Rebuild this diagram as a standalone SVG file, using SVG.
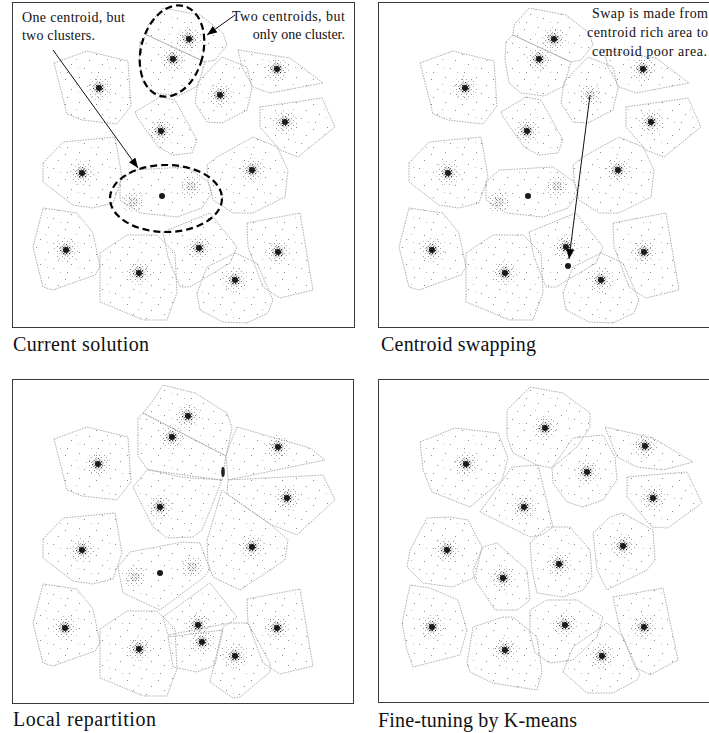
<svg xmlns="http://www.w3.org/2000/svg" xmlns:xlink="http://www.w3.org/1999/xlink" width="709" height="733" viewBox="0 0 709 733">
<defs>
<style>
.frame{fill:#fff;stroke:#3a3a3a;stroke-width:1}
.cell{fill:url(#pts);stroke:#9a9a9a;stroke-width:0.8;stroke-dasharray:1.6 1.1}
.lbl{font-family:"Liberation Serif","Times New Roman",serif;font-size:14px;fill:#111}
.cap{font-family:"Liberation Serif","Times New Roman",serif;font-size:20px;fill:#111}
.ell{fill:none;stroke:#000;stroke-width:2.2;stroke-dasharray:7 4}
.arr{fill:none;stroke:#111;stroke-width:1}
.cd{fill:#1a1a1a}
</style>
<pattern id="pts" width="31" height="25" patternUnits="userSpaceOnUse">
<g fill="#8a8a8a">
<rect x="3" y="4" width="1" height="1"/><rect x="17" y="2" width="1" height="1"/><rect x="27" y="10" width="1" height="1"/>
<rect x="9" y="14" width="1" height="1"/><rect x="22" y="18" width="1" height="1"/><rect x="5" y="22" width="1" height="1"/>
<rect x="14" y="9" width="1" height="1" fill="#b5b5b5"/><rect x="29" y="22" width="1" height="1" fill="#b5b5b5"/><rect x="16" y="17" width="1" height="1" fill="#c0c0c0"/>
</g>
</pattern>
<pattern id="sp" width="5" height="5" patternUnits="userSpaceOnUse">
<rect x="1" y="1" width="1" height="1" fill="#999"/><rect x="3" y="3" width="1" height="1" fill="#aaa"/>
</pattern>
<pattern id="dn" width="3" height="3" patternUnits="userSpaceOnUse">
<rect x="0" y="0" width="1.2" height="1.2" fill="#333"/><rect x="1.5" y="1.6" width="1" height="1" fill="#555"/>
</pattern>
<marker id="ah" viewBox="0 0 10 8" refX="10" refY="4" markerWidth="10" markerHeight="8" markerUnits="userSpaceOnUse" orient="auto">
<path d="M0,0 L10,4 L0,8 z" fill="#000"/>
</marker>
<g id="halo"><circle r="12" fill="url(#sp)"/><circle r="6" fill="url(#dn)"/><circle r="3" class="cd"/></g>
<g id="blob"><circle r="11" fill="url(#sp)"/><circle r="5" fill="url(#dn)" opacity="0.55"/></g>
<polygon id="pA" class="cell" points="54,63 87,51 128,61 131,106 117,124 82,120 67,114"/>
<polygon id="pB1" class="cell" points="148,25 163,8 200,15 223,33 227,45 215,60 205,62 147,35"/>
<polygon id="pB2" class="cell" points="140,42 147,35 205,62 198,86 178,96 155,93 143,83 139,60"/>
<polygon id="pC" class="cell" points="238,50 290,58 323,83 270,93 253,87 242,67"/>
<polygon id="pD" class="cell" points="198,82 222,57 247,67 252,88 247,110 222,123 207,122 195,103"/>
<polygon id="pE" class="cell" points="260,107 322,98 335,127 298,157 280,150 260,127"/>
<polygon id="pF" class="cell" points="135,112 160,97 175,100 197,140 192,153 173,155 158,147 137,117"/>
<polygon id="pG" class="cell" points="43,163 63,142 115,137 122,177 113,203 93,208 73,205 43,182"/>
<polygon id="pH" class="cell" points="120,182 133,170 187,167 208,182 212,193 202,208 177,217 140,213 120,200"/>
<polygon id="pI" class="cell" points="207,165 217,157 253,137 277,147 288,170 285,197 253,213 233,213 213,200 208,180"/>
<polygon id="pJ" class="cell" points="43,208 77,213 93,233 100,267 95,275 53,290 43,287 33,247"/>
<polygon id="pK" class="cell" points="100,253 127,235 157,235 175,253 177,293 167,320 143,320 115,308 100,302"/>
<polygon id="pL" class="cell" points="163,232 210,213 237,247 230,263 190,287 180,287 168,257"/>
<polygon id="pM" class="cell" points="197,293 207,267 235,253 257,263 273,300 268,313 247,323 223,322 200,310"/>
<polygon id="pN" class="cell" points="247,223 300,213 313,290 280,298 263,287 248,247"/>
</defs>
<rect width="709" height="733" fill="#fff"/>

<!-- Panel 1: Current solution -->
<g id="panel1">
<rect class="frame" x="12.5" y="2.5" width="342" height="325"/>
<use href="#pA"/><use href="#pB1"/><use href="#pB2"/><use href="#pC"/><use href="#pD"/><use href="#pE"/><use href="#pF"/><use href="#pG"/><use href="#pH"/><use href="#pI"/><use href="#pJ"/><use href="#pK"/><use href="#pL"/><use href="#pM"/><use href="#pN"/>
<use href="#halo" x="99" y="88"/><use href="#halo" x="189" y="39"/><use href="#halo" x="173" y="59"/><use href="#halo" x="277" y="69"/><use href="#halo" x="220" y="95"/><use href="#halo" x="285" y="122"/><use href="#halo" x="161" y="131"/><use href="#halo" x="82" y="173"/><use href="#halo" x="252" y="170"/><use href="#halo" x="66" y="250"/><use href="#halo" x="139" y="273"/><use href="#halo" x="199" y="248"/><use href="#halo" x="235" y="280"/><use href="#halo" x="278" y="252"/>
<use href="#blob" x="133" y="202"/><use href="#blob" x="191" y="186"/>
<circle class="cd" cx="162" cy="196" r="3"/>
<ellipse class="ell" cx="172" cy="51" rx="31" ry="46.5" transform="rotate(15 172 51)"/>
<ellipse class="ell" cx="166" cy="198.5" rx="56" ry="33.5"/>
<text class="lbl" x="22" y="22" textLength="103" lengthAdjust="spacing">One centroid, but</text>
<text class="lbl" x="22" y="40" textLength="73" lengthAdjust="spacing">two clusters.</text>
<text class="lbl" x="232" y="21" textLength="113" lengthAdjust="spacing">Two centroids, but</text>
<text class="lbl" x="345" y="39" text-anchor="end">only one cluster.</text>
<text class="cap" x="13" y="351" textLength="136" lengthAdjust="spacing">Current solution</text>
</g>

<!-- Panel 2: Centroid swapping -->
<g id="panel2">
<rect class="frame" x="378.5" y="2.5" width="340" height="325"/>
<g transform="translate(366,0)">
<use href="#pA"/><use href="#pB1"/><use href="#pB2"/><use href="#pC"/><use href="#pD"/><use href="#pE"/><use href="#pF"/><use href="#pG"/><use href="#pH"/><use href="#pI"/><use href="#pJ"/><use href="#pK"/><use href="#pL"/><use href="#pM"/><use href="#pN"/>
<use href="#halo" x="99" y="88"/><use href="#halo" x="188" y="39"/><use href="#halo" x="173" y="59"/><use href="#halo" x="277" y="69"/><use href="#blob" x="224" y="95"/><use href="#halo" x="285" y="122"/><use href="#halo" x="161" y="131"/><use href="#halo" x="82" y="173"/><use href="#halo" x="252" y="170"/><use href="#halo" x="66" y="250"/><use href="#halo" x="139" y="273"/><use href="#halo" x="200" y="247"/><use href="#halo" x="235" y="280"/><use href="#halo" x="278" y="252"/>
<use href="#blob" x="133" y="202"/><use href="#blob" x="191" y="186"/>
<circle class="cd" cx="162" cy="196" r="3"/>
<circle class="cd" cx="202" cy="266" r="3"/>
</g>
<text class="lbl" x="592" y="18" textLength="116" lengthAdjust="spacing">Swap is made from</text>
<text class="lbl" x="587" y="37" textLength="121" lengthAdjust="spacing">centroid rich area to</text>
<text class="lbl" x="592" y="56" textLength="115" lengthAdjust="spacing">centroid poor area.</text>
<text class="cap" x="381" y="351" textLength="155" lengthAdjust="spacing">Centroid swapping</text>
</g>

<!-- Panel 3: Local repartition -->
<g id="panel3">
<rect class="frame" x="12.5" y="379.5" width="341" height="324"/>
<g transform="translate(0,376)">
<use href="#pA"/><use href="#pG"/><use href="#pJ"/><use href="#pK"/><use href="#pN"/>
<polygon class="cell" points="152,26 163,9 195,17 227,37 232,52 226,80 143,37"/>
<polygon class="cell" points="143,37 226,80 222,104 180,101 147,93 138,80 138,42"/>
<polygon class="cell" points="237,51 310,72 325,84 228,104 226,80 230,68"/>
<polygon class="cell" points="228,104 323,99 335,124 297,159 270,148 227,118"/>
<polygon class="cell" points="133,111 147,94 222,104 213,127 202,154 193,161 167,162 153,151"/>
<polygon class="cell" points="207,164 222,114 227,118 270,148 288,164 285,184 240,214 213,201 208,187"/>
<polygon class="cell" points="118,191 130,176 183,166 200,167 210,194 203,202 160,234 123,217"/>
<polygon class="cell" points="163,241 210,207 237,241 230,247 168,259"/>
<polygon class="cell" points="168,261 223,254 215,289 197,296 173,291"/>
<polygon class="cell" points="210,306 223,251 230,247 248,247 270,287 270,296 240,321 233,322"/>
<use href="#halo" x="98" y="88"/><use href="#halo" x="188" y="40"/><use href="#halo" x="172" y="61"/><use href="#halo" x="278" y="71"/><use href="#halo" x="287" y="122"/><use href="#halo" x="160" y="131"/><use href="#halo" x="82" y="174"/><use href="#halo" x="252" y="171"/><use href="#halo" x="65" y="252"/><use href="#halo" x="139" y="273"/><use href="#halo" x="198" y="249"/><use href="#halo" x="202" y="266"/><use href="#halo" x="235" y="280"/><use href="#halo" x="277" y="252"/>
<use href="#blob" x="135" y="201"/><use href="#blob" x="192" y="191"/>
<circle class="cd" cx="160" cy="197" r="3"/>
<ellipse cx="223" cy="96" rx="1.8" ry="5" fill="#222"/>
</g>
<text class="cap" x="13" y="726" textLength="143" lengthAdjust="spacing">Local repartition</text>
</g>

<!-- Panel 4: Fine-tuning by K-means -->
<g id="panel4">
<rect class="frame" x="378.5" y="379.5" width="340" height="323"/>
<g transform="translate(366,376)">
<polygon class="cell" points="54,66 89,52 132,57 142,82 136,104 104,131 66,116 57,94"/>
<polygon class="cell" points="141,34 164,11 197,17 224,37 224,51 211,71 186,92 171,89 147,77 141,61"/>
<polygon class="cell" points="186,92 207,62 237,59 249,81 251,104 237,124 217,131 201,126 187,107"/>
<polygon class="cell" points="239,51 287,62 327,86 297,94 271,91 251,81"/>
<polygon class="cell" points="261,101 321,96 336,127 302,152 286,151 261,121"/>
<polygon class="cell" points="114,136 146,91 172,89 187,151 176,159 164,161"/>
<polygon class="cell" points="44,174 61,142 84,141 102,144 116,171 109,201 87,211 57,207 41,191"/>
<polygon class="cell" points="107,194 117,171 131,167 161,194 164,224 151,234 129,234 109,204"/>
<polygon class="cell" points="164,167 181,151 204,151 224,174 226,201 217,214 197,221 171,217 166,194"/>
<polygon class="cell" points="227,157 244,141 257,137 287,154 289,184 281,194 241,214 231,194"/>
<polygon class="cell" points="36,247 44,209 64,212 92,224 101,254 94,279 47,291 41,274"/>
<polygon class="cell" points="101,287 107,251 137,241 147,241 171,261 176,296 171,314 151,311 127,307 104,296"/>
<polygon class="cell" points="164,257 164,234 181,224 211,224 237,241 231,261 207,284 184,287 169,277"/>
<polygon class="cell" points="197,296 207,271 241,247 257,261 274,299 271,304 247,317 221,317"/>
<polygon class="cell" points="247,221 297,212 312,284 284,299 269,291 254,254"/>
<use href="#halo" x="100" y="88"/><use href="#halo" x="179" y="52"/><use href="#halo" x="221" y="96"/><use href="#halo" x="279" y="70"/><use href="#halo" x="287" y="122"/><use href="#halo" x="158" y="131"/><use href="#halo" x="81" y="174"/><use href="#halo" x="137" y="202"/><use href="#halo" x="193" y="188"/><use href="#halo" x="257" y="170"/><use href="#halo" x="66" y="251"/><use href="#halo" x="139" y="274"/><use href="#halo" x="199" y="249"/><use href="#halo" x="236" y="280"/><use href="#halo" x="278" y="251"/>
</g>
<text class="cap" x="378" y="727" textLength="199" lengthAdjust="spacing">Fine-tuning by K-means</text>
</g>

<!-- Connectors -->
<g id="connectors">
<line class="arr" x1="53" y1="50" x2="138" y2="168" marker-end="url(#ah)"/>
<line class="arr" x1="235" y1="15" x2="207" y2="35" marker-end="url(#ah)"/>
<line class="arr" x1="590" y1="95" x2="569" y2="259" marker-end="url(#ah)"/>
</g>
</svg>
